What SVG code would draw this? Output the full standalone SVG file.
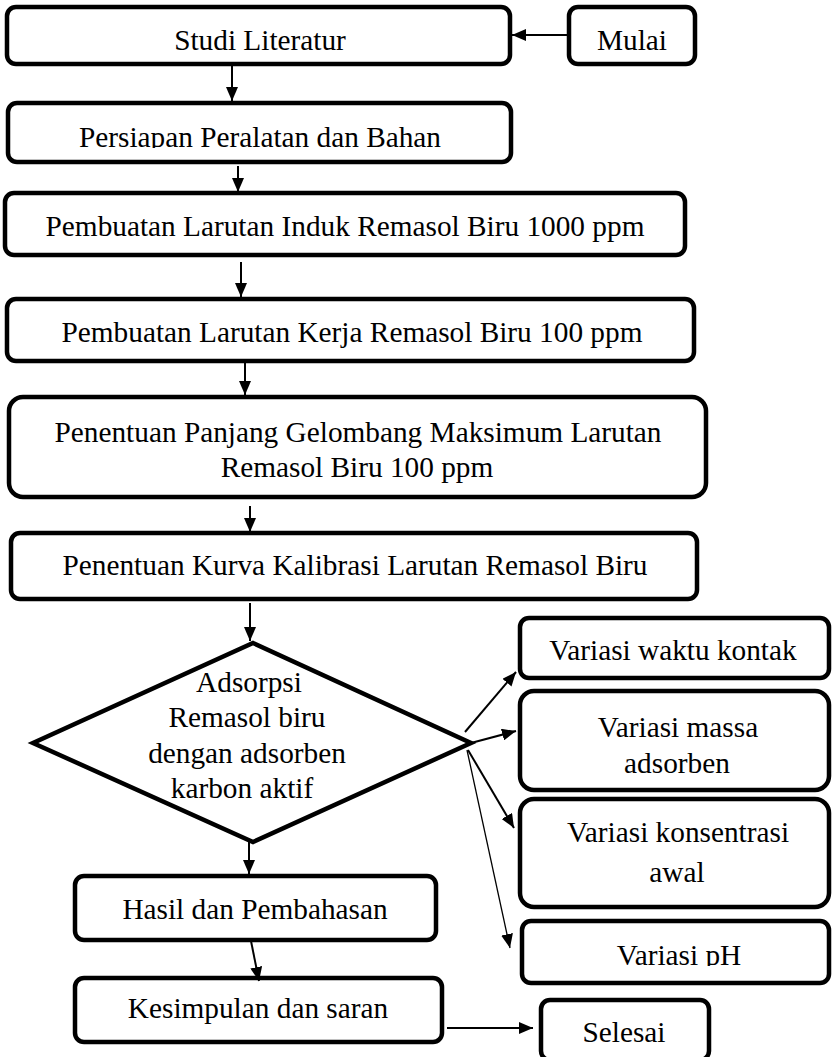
<svg xmlns="http://www.w3.org/2000/svg" width="833" height="1057" viewBox="0 0 833 1057">
<style>
.box{fill:#fff;stroke:#000;stroke-width:4.5}
.t{font-family:"Liberation Serif","Times New Roman",serif;font-size:29.3px;fill:#000;text-anchor:middle}
.c{stroke:#000;stroke-width:2;fill:none;marker-end:url(#ah)}
.thin{stroke-width:1.3}
</style>
<defs>
<marker id="ah" markerUnits="userSpaceOnUse" markerWidth="15" markerHeight="12" refX="14" refY="6" orient="auto">
<path d="M0,0 L14,6 L0,12 z" fill="#000"/>
</marker>
<clipPath id="clipPersiapan"><rect x="0" y="100" width="520" height="48"/></clipPath>
<clipPath id="clipPh"><rect x="520" y="918" width="313" height="48"/></clipPath>
</defs>
<rect width="833" height="1057" fill="#fff"/>
<g id="n-studi"><rect class="box" x="7" y="7" width="503" height="57" rx="9"/><text class="t" x="260" y="50">Studi Literatur</text></g>
<g id="n-mulai"><rect class="box" x="569" y="7" width="126" height="57" rx="9"/><text class="t" x="632" y="50">Mulai</text></g>
<g id="n-persiapan"><rect class="box" x="8" y="103" width="503" height="59" rx="9"/><text class="t" x="260" y="147" clip-path="url(#clipPersiapan)">Persiapan Peralatan dan Bahan</text></g>
<g id="n-induk"><rect class="box" x="5" y="193" width="680" height="62" rx="9"/><text class="t" x="345" y="236">Pembuatan Larutan Induk Remasol Biru 1000 ppm</text></g>
<g id="n-kerja"><rect class="box" x="7" y="299" width="687" height="62" rx="9"/><text class="t" x="352" y="342">Pembuatan Larutan Kerja Remasol Biru 100 ppm</text></g>
<g id="n-panjang"><rect class="box" x="9" y="397" width="697" height="100" rx="14"/><text class="t" x="358" y="442">Penentuan Panjang Gelombang Maksimum Larutan</text><text class="t" x="357" y="477">Remasol Biru 100 ppm</text></g>
<g id="n-kurva"><rect class="box" x="11" y="533" width="686" height="66" rx="9"/><text class="t" x="355" y="575">Penentuan Kurva Kalibrasi Larutan Remasol Biru</text></g>
<g id="n-adsorpsi"><polygon class="box" points="253,643 471,743 253,842 33,743" stroke-linejoin="miter"/><text class="t" x="249" y="692">Adsorpsi</text><text class="t" x="247" y="727">Remasol biru</text><text class="t" x="247" y="763">dengan adsorben</text><text class="t" x="242" y="798">karbon aktif</text></g>
<g id="n-waktu"><rect class="box" x="520" y="618" width="309" height="60" rx="9"/><text class="t" x="673" y="660">Variasi waktu kontak</text></g>
<g id="n-massa"><rect class="box" x="520" y="691" width="309" height="99" rx="14"/><text class="t" x="678" y="737">Variasi massa</text><text class="t" x="677" y="773">adsorben</text></g>
<g id="n-konsentrasi"><rect class="box" x="520" y="799" width="309" height="108" rx="14"/><text class="t" x="678" y="842">Variasi konsentrasi</text><text class="t" x="677" y="882">awal</text></g>
<g id="n-ph"><rect class="box" x="522" y="921" width="307" height="62" rx="9"/><text class="t" x="679" y="965" clip-path="url(#clipPh)">Variasi pH</text></g>
<g id="n-hasil"><rect class="box" x="75" y="876" width="361" height="64" rx="9"/><text class="t" x="255" y="919">Hasil dan Pembahasan</text></g>
<g id="n-kesimpulan"><rect class="box" x="75" y="978" width="367" height="64" rx="9"/><text class="t" x="258" y="1018">Kesimpulan dan saran</text></g>
<g id="n-selesai"><rect class="box" x="541" y="1000" width="168" height="60" rx="9"/><text class="t" x="624" y="1042">Selesai</text></g>
<g id="connectors">
<line class="c" x1="567" y1="35" x2="512" y2="35"/>
<line class="c" x1="232" y1="66" x2="232" y2="101"/>
<line class="c" x1="238" y1="166" x2="238" y2="192"/>
<line class="c" x1="241" y1="262" x2="241" y2="297"/>
<line class="c" x1="245" y1="363" x2="245" y2="395"/>
<line class="c" x1="250" y1="506" x2="250" y2="532"/>
<line class="c" x1="250" y1="603" x2="250" y2="641"/>
<line class="c" x1="465" y1="732" x2="516" y2="672"/>
<line class="c" x1="471" y1="743" x2="516" y2="731"/>
<line class="c" x1="468" y1="750" x2="514" y2="828"/>
<line class="c thin" x1="467" y1="750" x2="510" y2="948"/>
<line class="c" x1="249" y1="842" x2="249" y2="874"/>
<line class="c" x1="251" y1="941" x2="259" y2="981"/>
<line class="c" x1="447" y1="1028" x2="533" y2="1028"/>
</g>
</svg>
